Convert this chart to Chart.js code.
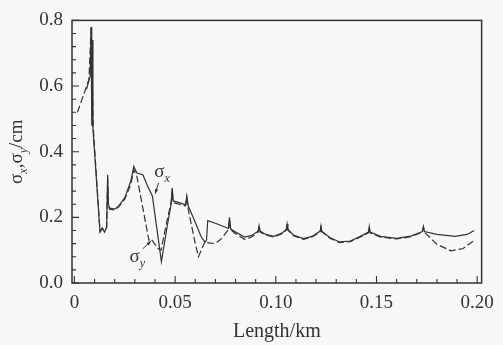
<!DOCTYPE html>
<html>
<head>
<meta charset="utf-8">
<script src="https://cdn.jsdelivr.net/npm/chart.js@4/dist/chart.umd.min.js"></script>
<style>
html,body{margin:0;padding:0;background:#f7f7f5;}
#wrap{width:503px;height:345px;position:relative;}
</style>
</head>
<body>
<div id="wrap"><canvas id="c"></canvas></div>
<script>
// ---- data ----
const lenX = [0.006, 0.0078, 0.0083, 0.0086, 0.0089, 0.0092, 0.0127, 0.0138, 0.015, 0.016, 0.0165, 0.0169, 0.0175, 0.020, 0.022, 0.025, 0.028, 0.0295, 0.031, 0.034, 0.036, 0.0387, 0.0432, 0.046, 0.048, 0.0486, 0.049, 0.052, 0.0552, 0.0558, 0.0565, 0.060, 0.063, 0.0648, 0.0656, 0.0662, 0.070, 0.074, 0.0765, 0.077, 0.0775, 0.080, 0.0845, 0.088, 0.0912, 0.0917, 0.0922, 0.095, 0.099, 0.103, 0.1052, 0.1056, 0.106, 0.109, 0.1138, 0.118, 0.122, 0.1224, 0.1228, 0.127, 0.1317, 0.137, 0.142, 0.146, 0.1464, 0.1468, 0.152, 0.160, 0.167, 0.1728, 0.1733, 0.1738, 0.180, 0.189, 0.195, 0.1985];
const sigmaX = [0.59, 0.63, 0.78, 0.48, 0.74, 0.47, 0.155, 0.168, 0.155, 0.17, 0.33, 0.24, 0.228, 0.225, 0.235, 0.26, 0.31, 0.355, 0.335, 0.33, 0.30, 0.265, 0.065, 0.17, 0.24, 0.29, 0.25, 0.245, 0.238, 0.265, 0.235, 0.185, 0.14, 0.125, 0.13, 0.19, 0.182, 0.172, 0.166, 0.2, 0.165, 0.155, 0.14, 0.145, 0.158, 0.175, 0.158, 0.148, 0.142, 0.152, 0.163, 0.18, 0.163, 0.145, 0.135, 0.142, 0.158, 0.175, 0.158, 0.138, 0.125, 0.128, 0.142, 0.155, 0.172, 0.155, 0.142, 0.136, 0.143, 0.157, 0.172, 0.157, 0.148, 0.142, 0.148, 0.16];
const lenY = [0.0015, 0.0072, 0.0083, 0.0087, 0.0093, 0.0127, 0.0138, 0.015, 0.016, 0.0165, 0.0169, 0.0175, 0.020, 0.022, 0.025, 0.028, 0.0295, 0.031, 0.037, 0.038, 0.0415, 0.043, 0.046, 0.048, 0.0486, 0.049, 0.052, 0.0552, 0.0558, 0.0565, 0.060, 0.0616, 0.063, 0.065, 0.0665, 0.070, 0.073, 0.0765, 0.077, 0.0775, 0.080, 0.0845, 0.088, 0.0912, 0.0917, 0.0922, 0.095, 0.099, 0.103, 0.1052, 0.1056, 0.106, 0.109, 0.1138, 0.118, 0.122, 0.1224, 0.1228, 0.127, 0.1317, 0.137, 0.142, 0.146, 0.1464, 0.1468, 0.152, 0.160, 0.167, 0.1728, 0.1733, 0.1738, 0.180, 0.187, 0.193, 0.1985];
const sigmaY = [0.52, 0.62, 0.78, 0.70, 0.48, 0.158, 0.165, 0.16, 0.168, 0.32, 0.235, 0.225, 0.222, 0.232, 0.255, 0.3, 0.345, 0.325, 0.13, 0.135, 0.105, 0.1, 0.19, 0.245, 0.285, 0.245, 0.24, 0.235, 0.26, 0.225, 0.12, 0.08, 0.1, 0.128, 0.122, 0.12, 0.135, 0.163, 0.195, 0.163, 0.15, 0.133, 0.14, 0.155, 0.172, 0.155, 0.146, 0.14, 0.15, 0.161, 0.178, 0.161, 0.143, 0.133, 0.14, 0.156, 0.173, 0.156, 0.136, 0.123, 0.126, 0.14, 0.153, 0.17, 0.153, 0.14, 0.134, 0.141, 0.155, 0.17, 0.155, 0.118, 0.098, 0.105, 0.13];

const xTicks = [0,0.01,0.02,0.03,0.04,0.05,0.06,0.07,0.08,0.09,0.10,0.11,0.12,0.13,0.14,0.15,0.16,0.17,0.18,0.19,0.20];
const xTickLabels = {0:'0', 0.05:'0.05', 0.1:'0.10', 0.15:'0.15', 0.2:'0.20'};
const yTicks = [0,0.04,0.08,0.12,0.16,0.2,0.24,0.28,0.32,0.36,0.4,0.44,0.48,0.52,0.56,0.6,0.64,0.68,0.72,0.76,0.8];
const yTickLabels = {0:'0.0', 0.2:'0.2', 0.4:'0.4', 0.6:'0.6', 0.8:'0.8'};
const xTitle = 'Length/km';
// annotation labels: [base, subscript, x, y] in data units; arrows [x1,y1,x2,y2]
const seriesLabels = [['σ','x',0.0396,0.322],['σ','y',0.0274,0.063]];
const labelArrows = [[0.0418,0.305,0.0401,0.272],[0.0339,0.104,0.0381,0.128]];

const INK = '#333333';
const SERIF = '"Liberation Serif","DejaVu Serif",serif';

function keyOf(v){ return Math.round(v*1000)/1000; }
function isMajorX(v){ return xTickLabels[keyOf(v)] !== undefined; }
function isMajorY(v){ return yTickLabels[keyOf(v)] !== undefined; }

function drawSub(ctx, x, y, base, sub, big, small){
  ctx.font = big + 'px ' + SERIF;
  ctx.fillText(base, x, y);
  const w = ctx.measureText(base).width;
  ctx.font = 'italic ' + small + 'px ' + SERIF;
  ctx.fillText(sub, x + w, y + small*0.38);
  return w + ctx.measureText(sub).width;
}

const decor = {
  id:'decor',
  beforeDraw(chart){
    const ctx = chart.ctx;
    ctx.save();
    ctx.fillStyle = '#f7f7f5';
    ctx.fillRect(0,0,chart.width,chart.height);
    ctx.restore();
  },
  afterDraw(chart){
    const ctx = chart.ctx, a = chart.chartArea;
    const xs = chart.scales.x, ys = chart.scales.y;
    ctx.save();
    ctx.strokeStyle = INK;
    ctx.lineWidth = 1.5;
    ctx.strokeRect(a.left, a.top, a.right - a.left, a.bottom - a.top);
    ctx.lineWidth = 1.1;
    ctx.beginPath();
    xTicks.forEach(v => {
      const px = xs.getPixelForValue(v);
      const len = isMajorX(v) ? 7 : 4;
      ctx.moveTo(px, a.bottom); ctx.lineTo(px, a.bottom - len);
    });
    yTicks.forEach(v => {
      const py = ys.getPixelForValue(v);
      const len = isMajorY(v) ? 7 : 4;
      ctx.moveTo(a.left, py); ctx.lineTo(a.left + len, py);
    });
    ctx.stroke();

    // series labels
    ctx.fillStyle = INK;
    ctx.textBaseline = 'alphabetic';
    ctx.textAlign = 'left';
    seriesLabels.forEach(l => {
      drawSub(ctx, xs.getPixelForValue(l[2]), ys.getPixelForValue(l[3]), l[0], l[1], 19, 12);
    });
    // arrows
    ctx.lineWidth = 1;
    labelArrows.forEach(r => {
      const x1 = xs.getPixelForValue(r[0]), y1 = ys.getPixelForValue(r[1]);
      const x2 = xs.getPixelForValue(r[2]), y2 = ys.getPixelForValue(r[3]);
      ctx.beginPath(); ctx.moveTo(x1,y1); ctx.lineTo(x2,y2); ctx.stroke();
      const ang = Math.atan2(y2-y1, x2-x1);
      ctx.beginPath();
      ctx.moveTo(x2,y2);
      ctx.lineTo(x2 - 5*Math.cos(ang-0.35), y2 - 5*Math.sin(ang-0.35));
      ctx.lineTo(x2 - 5*Math.cos(ang+0.35), y2 - 5*Math.sin(ang+0.35));
      ctx.closePath(); ctx.fill();
    });

    // rotated y axis title with subscripts
    ctx.translate(22, (a.top + a.bottom)/2);
    ctx.rotate(-Math.PI/2);
    const parts = [['σ','x'],[',σ','y'],['/cm','']];
    let total = 0;
    parts.forEach(p => {
      ctx.font = '19px ' + SERIF; total += ctx.measureText(p[0]).width;
      ctx.font = 'italic 12px ' + SERIF; total += ctx.measureText(p[1]).width;
    });
    let cx = -total/2;
    parts.forEach(p => { cx += drawSub(ctx, cx, 0, p[0], p[1], 19, 12); });
    ctx.restore();
  }
};

const ptsX = lenX.map((v,i) => ({x:v, y:sigmaX[i]}));
const ptsY = lenY.map((v,i) => ({x:v, y:sigmaY[i]}));

new Chart(document.getElementById('c'), {
  type:'scatter',
  data:{ datasets:[
    {label:'σx', data:ptsX, showLine:true, borderColor:INK, borderWidth:1.2, pointRadius:0, tension:0, fill:false},
    {label:'σy', data:ptsY, showLine:true, borderColor:INK, borderWidth:1.2, borderDash:[7,3], pointRadius:0, tension:0, fill:false}
  ]},
  options:{
    responsive:true, maintainAspectRatio:false, animation:false,
    layout:{padding:{top:15, right:17, left:0, bottom:0}},
    plugins:{legend:{display:false}, tooltip:{enabled:false}},
    scales:{
      x:{
        type:'linear', min:-0.0012, max:0.2022,
        grid:{display:false, drawTicks:false}, border:{display:false},
        afterBuildTicks(s){ s.ticks = xTicks.map(v => ({value:v})); },
        afterFit(s){ s.height = 62; },
        ticks:{autoSkip:false, maxRotation:0, padding:9, color:INK,
          font:{family:SERIF, size:19},
          callback(v){ const t = xTickLabels[keyOf(v)]; return t === undefined ? '' : t; }},
        title:{display:true, text:xTitle, color:INK, font:{family:SERIF, size:20}, padding:{top:2, bottom:1}}
      },
      y:{
        type:'linear', min:0, max:0.8,
        grid:{display:false, drawTicks:false}, border:{display:false},
        afterBuildTicks(s){ s.ticks = yTicks.map(v => ({value:v})); },
        afterFit(s){ s.width = 72; },
        ticks:{autoSkip:false, padding:9, color:INK,
          font:{family:SERIF, size:19},
          callback(v){ const t = yTickLabels[keyOf(v)]; return t === undefined ? '' : t; }}
      }
    }
  },
  plugins:[decor]
});
</script>
</body>
</html>
